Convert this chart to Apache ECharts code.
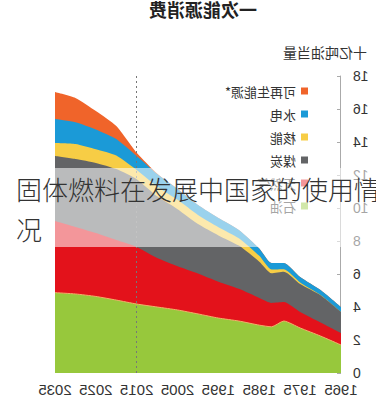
<!DOCTYPE html>
<html>
<head>
<meta charset="utf-8">
<script src="https://cdn.jsdelivr.net/npm/echarts@6/dist/echarts.min.js"></script>
<style>
  html, body { margin: 0; padding: 0; background: #fff; overflow: hidden; }
  #wrap { position: relative; width: 376px; height: 400px; overflow: hidden; }
  /* 原图是左右镜像的 */
  #chart { position: absolute; left: 0; top: 0; width: 376px; height: 400px; transform: scaleX(-1); }
  #band { position: absolute; left: 0; top: 168px; width: 376px; height: 79px; background: rgba(255,255,255,0.56); }
  #caption { position: absolute; left: 16px; top: 169px; font-family: "Noto Sans CJK SC", sans-serif; font-weight: 300;
    font-size: 26px; line-height: 40px; color: #333; white-space: nowrap; }
</style>
</head>
<body>
<div id="wrap">
  <div id="chart"></div>
  <div id="band"></div>
  <div id="caption">固体燃料在发展中国家的使用情<br>况</div>
</div>
<script>
// 数据 (十亿吨油当量)
var years = [1965, 1970, 1975, 1979, 1982, 1985, 1990, 1995, 2000, 2005, 2010, 2015, 2020, 2025, 2030, 2035];
var oil = [1.70, 2.24, 2.73, 3.15, 2.80, 2.90, 3.15, 3.33, 3.58, 3.82, 4.00, 4.18, 4.42, 4.64, 4.79, 4.87];
var gas = [0.72, 0.82, 0.97, 1.15, 1.45, 1.65, 1.95, 2.20, 2.45, 2.65, 2.97, 3.46, 3.64, 3.84, 4.06, 4.34];
var coal = [1.28, 1.65, 1.69, 1.84, 1.80, 2.20, 2.62, 2.81, 3.00, 3.46, 3.74, 4.11, 4.30, 4.25, 4.12, 3.94];
var nuclear = [0.00, 0.02, 0.10, 0.15, 0.22, 0.35, 0.45, 0.50, 0.55, 0.57, 0.60, 0.55, 0.82, 0.83, 0.91, 0.79];
var hydro = [0.30, 0.30, 0.33, 0.38, 0.40, 0.45, 0.50, 0.55, 0.60, 0.65, 0.75, 0.85, 1.00, 1.20, 1.32, 1.45];
var renew = [0.00, 0.00, 0.00, 0.00, 0.00, 0.00, 0.00, 0.00, 0.00, 0.01, 0.03, 0.20, 0.79, 1.12, 1.47, 1.64];
var yTicks = [0, 18, 2];
var xTicks = [1965, 2035, 10];
var forecastStart = 2015;

// 自下而上的层
var layers = [
	{ name: '石油', data: oil, color: '#97c83c' },
	{ name: '天然气', data: gas, color: '#e3121b' },
	{ name: '煤炭', data: coal, color: '#636466' },
	{ name: '核能', data: nuclear, color: '#f7cd45' },
	{ name: '水电', data: hydro, color: '#1b9ad7' },
	{ name: '可再生能源*', data: renew, color: '#f0642a' }
];

// 累加, 每层填到 0, 上层先画
var running = years.map(function () { return 0; });
var series = [];
layers.forEach(function (l, idx) {
	running = running.map(function (v, i) { return v + l.data[i]; });
	var pts = years.map(function (y, i) { return [y, +running[i].toFixed(3)]; });
	series.unshift({
		name: l.name,
		type: 'line',
		data: pts,
		showSymbol: false,
		smooth: 0.2,
		lineStyle: idx === 0 ? { width: 1, color: '#f2b06a' } : { width: 0 },
		areaStyle: { color: l.color, opacity: 1 },
		itemStyle: { color: l.color },
		emphasis: { disabled: true }
	});
});
// 2015 虚线 放在最上层
series.push({
	type: 'line',
	data: [],
	markLine: {
		silent: true,
		symbol: ['none', 'none'],
		label: { show: false },
		lineStyle: { type: [2, 3], color: '#777', width: 1 },
		data: [{ xAxis: forecastStart }]
	}
});

var myChart = echarts.init(document.getElementById('chart'), null, { renderer: 'svg' });

option = {
	animation: false,
	textStyle: { fontFamily: 'Liberation Sans, Noto Sans CJK SC, sans-serif' },
	title: [
		{
			text: '一次能源消费',
			left: 119, top: 0, padding: 0,
			textStyle: { fontSize: 18, fontWeight: 'bold', color: '#222', fontFamily: 'Noto Sans CJK SC' }
		},
		{
			text: '十亿吨油当量',
			left: 9, top: 45, padding: 0,
			textStyle: { fontSize: 14, fontWeight: 'normal', color: '#333', fontFamily: 'Noto Sans CJK SC' }
		}
	],
	legend: {
		orient: 'vertical',
		left: 68, top: 84, padding: 0,
		itemWidth: 7, itemHeight: 7, itemGap: 9,
		icon: 'rect',
		data: ['可再生能源*', '水电', '核能', '煤炭', '天然气', '石油'],
		textStyle: { fontSize: 13, color: '#333', lineHeight: 14, fontFamily: 'Noto Sans CJK SC' }
	},
	grid: { left: 35, right: 55, top: 76, bottom: 27 },
	xAxis: {
		type: 'value',
		min: xTicks[0], max: xTicks[1], interval: xTicks[2],
		axisLine: { show: false },
		axisTick: { show: false },
		splitLine: { show: false },
		axisLabel: { fontSize: 15, color: '#333', margin: 9, formatter: function (v) { return String(v); } }
	},
	yAxis: {
		type: 'value',
		min: yTicks[0], max: yTicks[1], interval: yTicks[2],
		axisLine: { show: true, lineStyle: { color: '#aaa' } },
		axisTick: { show: true, inside: true, length: 4, lineStyle: { color: '#aaa' } },
		splitLine: { show: false },
		axisLabel: { fontSize: 14, color: '#333', margin: 12 }
	},
	series: series
};

myChart.setOption(option);
</script>
</body>
</html>
